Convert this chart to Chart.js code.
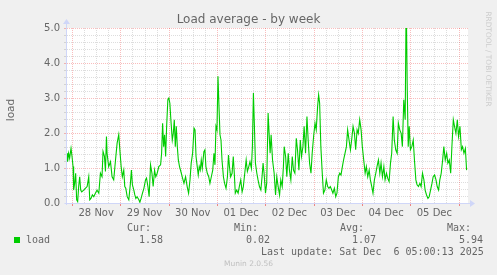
<!DOCTYPE html>
<html><head><meta charset="utf-8">
<script src="https://cdn.jsdelivr.net/npm/chart.js@4.4.1/dist/chart.umd.min.js"></script>
<style>
html,body{margin:0;padding:0;background:#f0f0f0;}
#wrap{position:relative;width:497px;height:275px;overflow:hidden;}
canvas{position:absolute;left:0;top:0;}
.t{position:absolute;white-space:pre;line-height:12px;color:#666666;}
.mono{font-family:"DejaVu Sans Mono",monospace;font-size:10px;}
</style></head><body>
<div id="wrap">
<canvas id="c" width="497" height="275"></canvas>
<div class="t" style="left:0;width:497px;text-align:center;top:12px;font-family:'DejaVu Sans';font-size:12px;line-height:14px;">Load average - by week</div>
<div class="t" style="left:-20px;top:104px;width:60px;text-align:center;font-family:'DejaVu Sans';font-size:10.5px;transform:rotate(-90deg);">load</div>
<div class="t" style="left:433px;top:54px;width:110px;text-align:center;font-family:'DejaVu Sans';font-size:7.4px;line-height:10px;color:#cccccc;transform:rotate(90deg);">RRDTOOL / TOBI OETIKER</div>
<div class="t mono" style="left:127px;top:222px;">Cur:</div>
<div class="t mono" style="left:234px;top:222px;">Min:</div>
<div class="t mono" style="left:340px;top:222px;">Avg:</div>
<div class="t mono" style="left:447px;top:222px;">Max:</div>
<div style="position:absolute;left:14px;top:237px;width:6px;height:6px;background:#00cc00;"></div>
<div class="t mono" style="left:26px;top:234px;">load</div>
<div class="t mono" style="left:139px;top:234px;" id="vcur"></div>
<div class="t mono" style="left:246px;top:234px;" id="vmin"></div>
<div class="t mono" style="left:352px;top:234px;" id="vavg"></div>
<div class="t mono" style="left:459px;top:234px;" id="vmax"></div>
<div class="t mono" style="left:261px;top:246px;">Last update: Sat Dec  6 05:00:13 2025</div>
<div class="t" style="left:0;width:497px;text-align:center;top:259px;font-family:'DejaVu Sans';font-size:7.5px;line-height:10px;color:#c0c0c0;">Munin 2.0.56</div>
</div>
<script>
// time axis: hours since 28 Nov 00:00
const dayLabels = ['28 Nov','29 Nov','30 Nov','01 Dec','02 Dec','03 Dec','04 Dec','05 Dec'];
const yTickLabels = ['0.0','1.0','2.0','3.0','4.0','5.0'];
const legendStats = {cur:'1.58', min:'0.02', avg:'1.07', max:'5.94'};

const hours = [
-2.5,-2.2,-1.7,-1.2,-0.5,0.0,0.5,0.8,1.3,1.8,
2.3,2.8,3.3,3.8,4.3,4.8,5.8,6.6,7.5,8.3,
8.8,9.4,10.1,10.8,11.6,12.4,13.3,14.1,14.9,15.4,
16.1,16.6,17.1,17.4,18.2,19.1,19.9,20.7,21.6,22.4,
23.2,23.7,24.4,25.0,25.7,26.2,26.7,27.4,28.2,29.0,
29.5,30.0,30.7,31.2,31.7,32.3,33.2,33.7,34.3,35.0,
35.7,36.5,37.0,37.7,38.3,39.0,39.7,40.3,41.0,41.6,
42.3,43.1,44.0,44.5,45.0,45.5,46.0,46.5,47.0,47.6,
48.1,48.6,49.1,49.8,50.3,50.8,51.3,51.8,52.3,52.8,
53.4,54.3,54.9,55.6,56.4,57.2,57.9,58.6,59.2,59.9,
60.6,61.1,61.6,62.2,62.7,63.2,63.7,64.2,64.7,65.5,
66.0,66.5,67.2,67.9,68.5,69.2,69.9,70.5,71.0,71.5,
72.0,72.5,73.0,73.5,74.0,74.5,75.2,75.8,76.5,77.2,
77.7,78.2,78.8,79.5,80.1,80.6,81.1,81.8,82.5,83.1,
83.8,84.5,85.1,85.8,86.5,87.1,87.8,88.4,89.1,89.6,
90.1,90.6,91.1,91.8,92.4,93.1,93.8,94.4,94.9,95.4,
96.1,96.7,97.4,97.9,98.4,
98.9,99.6,100.4,101.1,101.7,102.4,103.1,103.7,104.4,105.0,
105.4,106.1,106.7,107.4,108.0,108.7,109.4,110.0,110.7,111.4,
112.0,112.7,113.4,114.0,114.7,115.3,116.0,116.7,117.3,118.0,
118.7,119.3,120.0,120.7,121.3,122.0,122.5,123.0,123.6,124.3,
124.9,125.6,126.3,127.0,127.6,128.3,129.0,129.6,130.3,131.0,
131.6,132.3,133.0,133.6,134.3,134.9,135.6,136.3,136.9,137.6,
138.3,138.9,139.6,140.3,140.9,141.6,142.2,142.9,143.6,144.2,
144.9,145.6,146.2,146.9,147.6,148.2,148.9,149.5,150.2,150.9,
151.5,152.2,152.9,153.5,154.2,154.9,155.5,156.2,156.8,157.5,
158.2,158.8,159.5,160.1,160.8,161.5,162.1,162.8,163.5,164.1,
164.8,165.5,166.0,166.5,167.0,167.5,168.1,168.8,169.5,170.1,
170.8,171.4,172.1,172.8,173.4,174.1,174.8,175.4,176.1,176.8,
177.4,178.1,178.8,179.4,180.1,180.8,181.4,182.1,182.7,183.4,
184.1,184.7,185.4,186.1,186.7,187.4,188.1,188.7,189.4,190.0,
190.7,191.4,192.0,192.7,193.4,194.0,194.7,195.4,196.0
];
const loadValues = [
1.42,1.18,1.42,1.28,1.56,1.33,1.04,0.37,0.56,0.85,
0.09,0.04,0.47,0.75,0.37,0.32,0.37,0.42,0.47,0.75,
0.09,0.13,0.23,0.18,0.28,0.37,0.28,0.85,0.75,1.47,
1.33,0.90,1.90,1.42,1.04,1.18,0.75,0.66,1.23,1.71,
1.95,1.56,1.04,0.75,0.94,0.47,0.42,0.18,0.09,0.56,
0.94,0.52,0.37,0.23,0.13,0.18,0.09,0.02,0.13,0.28,
0.42,0.66,0.71,0.47,0.18,1.09,0.85,0.47,0.94,0.75,
0.85,1.04,1.09,1.42,2.28,1.61,1.95,1.33,2.19,2.95,
3.00,2.85,2.38,1.80,1.99,2.38,1.61,2.19,1.61,1.23,
1.04,0.85,0.71,0.56,0.75,0.47,0.28,0.66,1.14,1.42,
2.14,2.09,1.33,1.04,0.80,1.04,0.94,1.23,0.99,1.47,
1.52,1.04,0.85,0.75,0.56,0.75,0.94,1.42,1.09,2.19,
2.09,3.62,2.76,1.95,1.80,1.23,0.75,0.56,0.42,0.75,
1.37,1.04,0.75,0.85,1.33,0.85,0.28,0.37,0.28,0.47,
0.66,0.32,0.47,0.85,1.23,0.90,1.04,1.18,0.99,1.61,
3.14,2.19,1.14,0.85,0.66,0.47,0.37,0.75,1.14,0.85,
0.28,0.56,2.57,1.99,1.42,
1.95,1.23,0.85,0.23,0.75,0.47,0.23,0.66,0.47,1.04,
1.61,1.33,0.75,1.42,0.94,0.66,1.33,0.94,0.85,1.85,
1.52,0.94,1.80,1.33,1.61,2.19,1.42,2.47,1.80,1.14,
0.85,1.42,1.90,2.28,2.09,2.76,3.09,2.85,1.61,0.85,
0.28,0.37,0.66,0.47,0.42,0.47,0.37,0.28,0.42,0.18,
0.28,0.75,0.85,0.80,1.04,1.23,1.42,1.61,2.09,1.80,
1.52,1.80,2.19,1.99,1.52,2.09,1.99,2.38,2.09,1.61,
1.23,0.85,1.04,0.75,0.94,0.66,0.47,0.28,0.66,0.85,
1.04,1.23,0.85,1.14,0.75,1.04,0.66,0.85,0.71,0.61,
1.14,1.42,2.47,1.80,1.52,1.42,2.28,2.09,1.99,1.61,
2.95,2.38,5.94,3.33,1.61,2.19,1.52,1.61,1.80,1.23,
0.66,0.52,0.47,0.56,0.47,0.85,0.66,0.37,0.23,0.13,
0.18,0.37,0.56,0.75,0.80,0.66,0.47,0.37,0.66,0.85,
1.23,1.61,1.23,1.42,1.14,1.23,0.85,1.61,2.38,2.19,
1.99,2.38,1.90,2.19,1.52,1.61,1.42,1.56,0.94
];

document.getElementById('vcur').textContent = legendStats.cur;
document.getElementById('vmin').textContent = legendStats.min;
document.getElementById('vavg').textContent = legendStats.avg;
document.getElementById('vmax').textContent = legendStats.max;

const X_MIN = -2.5, X_MAX = 196.7, Y_MAX = 5;
const MINOR = 'rgba(143,143,143,0.30)';
const MAJOR = 'rgba(232,0,0,0.26)';
const AXIS = '#CFD6F8';

function px(v){ return Math.round(v) + 0.5; }

const munGrid = {
  id: 'munGrid',
  beforeDraw(chart){
    const {ctx, chartArea:a} = chart;
    ctx.save();
    ctx.fillStyle = '#f0f0f0';
    ctx.fillRect(0,0,chart.width,chart.height);
    ctx.fillStyle = '#ffffff';
    ctx.fillRect(a.left, a.top, a.right-a.left, a.bottom-a.top);
    ctx.restore();
  },
  beforeDatasetsDraw(chart){
    const {ctx, chartArea:a, scales:{x, y}} = chart;
    ctx.save();
    ctx.lineWidth = 1;
    const dash = [1,1];
    ctx.setLineDash(dash);
    for (let k = 1; k <= Y_MAX*5; k++) {
      const yy = px(y.getPixelForValue(k/5));
      ctx.strokeStyle = (k % 5 === 0) ? MAJOR : MINOR;
      ctx.beginPath(); ctx.moveTo(a.left, yy); ctx.lineTo(a.right, yy); ctx.stroke();
      ctx.setLineDash([]);
      ctx.beginPath(); ctx.moveTo(a.left-3, yy); ctx.lineTo(a.left, yy); ctx.stroke();
      ctx.setLineDash(dash);
    }
    for (let h = 0; h <= X_MAX; h += 6) {
      if (h < X_MIN) continue;
      const xx = px(x.getPixelForValue(h));
      const major = (h % 24 === 0);
      ctx.strokeStyle = major ? MAJOR : MINOR;
      ctx.beginPath(); ctx.moveTo(xx, a.top); ctx.lineTo(xx, a.bottom); ctx.stroke();
      if (major) {
        ctx.setLineDash([]);
        ctx.strokeStyle = 'rgba(232,0,0,0.45)';
        ctx.beginPath(); ctx.moveTo(xx, a.bottom); ctx.lineTo(xx, a.bottom+3); ctx.stroke();
        ctx.setLineDash(dash);
      }
    }
    ctx.restore();
  },
  afterDatasetsDraw(chart){
    const {ctx, chartArea:a, scales:{x, y}} = chart;
    ctx.save();
    ctx.strokeStyle = AXIS; ctx.fillStyle = AXIS; ctx.lineWidth = 1;
    const y0 = px(y.getPixelForValue(0));
    const x0 = px(x.getPixelForValue(X_MIN)) - 1;
    ctx.beginPath(); ctx.moveTo(x0 - 2, y0); ctx.lineTo(a.right + 2, y0); ctx.stroke();
    ctx.beginPath(); ctx.moveTo(x0, a.bottom + 2); ctx.lineTo(x0, a.top - 4); ctx.stroke();
    ctx.beginPath();
    ctx.moveTo(a.right + 2, y0 - 3.5); ctx.lineTo(a.right + 7, y0); ctx.lineTo(a.right + 2, y0 + 3.5); ctx.closePath(); ctx.fill();
    ctx.beginPath();
    ctx.moveTo(x0 - 3.5, a.top - 4); ctx.lineTo(x0, a.top - 9); ctx.lineTo(x0 + 3.5, a.top - 4); ctx.closePath(); ctx.fill();
    ctx.restore();
  }
};

new Chart(document.getElementById('c'), {
  type: 'line',
  data: {
    datasets: [{
      label: 'load',
      data: hours.map((h, i) => ({x: h, y: loadValues[i]})),
      borderColor: '#00cc00',
      borderWidth: 1.1,
      pointRadius: 0,
      tension: 0,
      fill: false
    }]
  },
  options: {
    responsive: false,
    devicePixelRatio: 1,
    animation: false,
    layout: { padding: { left: 0, top: 28, right: 29, bottom: 52 } },
    plugins: { legend: { display: false }, tooltip: { enabled: false }, title: { display: false } },
    scales: {
      x: {
        type: 'linear', min: X_MIN, max: X_MAX,
        grid: { display: false, drawTicks: false }, border: { display: false },
        afterBuildTicks(s){ s.ticks = dayLabels.map((_, i) => ({ value: 12 + 24*i })); },
        afterFit(s){ s.height = 20; },
        ticks: {
          autoSkip: false, maxRotation: 0, padding: 4,
          color: '#666666', font: { family: 'DejaVu Sans', size: 10 },
          callback: (v) => dayLabels[Math.round((v - 12) / 24)]
        }
      },
      y: {
        min: 0, max: Y_MAX,
        grid: { display: false, drawTicks: false }, border: { display: false },
        afterFit(s){ s.width = 67; },
        ticks: {
          stepSize: 1, padding: 7,
          color: '#666666', font: { family: 'DejaVu Sans', size: 10 },
          callback: (v) => yTickLabels[Math.round(v)]
        }
      }
    }
  },
  plugins: [munGrid]
});
</script>
</body></html>
